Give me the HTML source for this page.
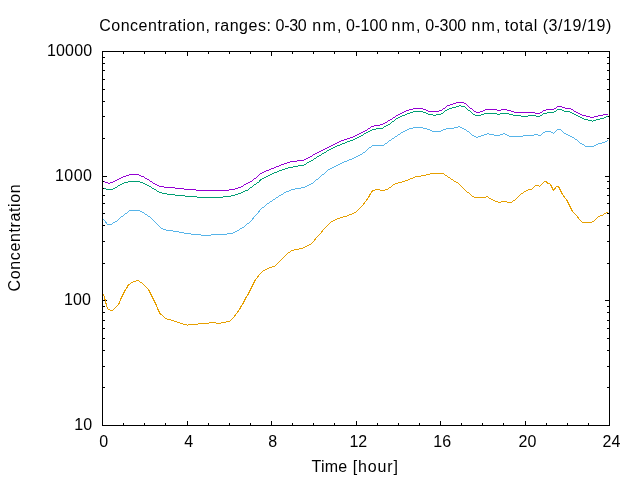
<!DOCTYPE html>
<html lang="en"><head><meta charset="utf-8"><title>Concentration plot</title>
<style>
html,body{margin:0;padding:0;background:#fff;}
body{width:640px;height:480px;overflow:hidden;}
svg{display:block;will-change:transform;}
text{font-family:"Liberation Sans","DejaVu Sans",sans-serif;font-size:16px;fill:#000;}
.c{fill:none;stroke-width:1;stroke-linejoin:round;stroke-linecap:butt;shape-rendering:crispEdges;}
.k{fill:#000;shape-rendering:crispEdges;}
</style></head><body>
<svg width="640" height="480" viewBox="0 0 640 480">
<rect x="0" y="0" width="640" height="480" fill="#fff"/>
<g class="k">
<rect x="123" y="423" width="1" height="2"/>
<rect x="123" y="52" width="1" height="2"/>
<rect x="144" y="423" width="1" height="2"/>
<rect x="144" y="52" width="1" height="2"/>
<rect x="165" y="423" width="1" height="2"/>
<rect x="165" y="52" width="1" height="2"/>
<rect x="187" y="421" width="1" height="4"/>
<rect x="187" y="52" width="1" height="4"/>
<rect x="208" y="423" width="1" height="2"/>
<rect x="208" y="52" width="1" height="2"/>
<rect x="229" y="423" width="1" height="2"/>
<rect x="229" y="52" width="1" height="2"/>
<rect x="250" y="423" width="1" height="2"/>
<rect x="250" y="52" width="1" height="2"/>
<rect x="271" y="421" width="1" height="4"/>
<rect x="271" y="52" width="1" height="4"/>
<rect x="292" y="423" width="1" height="2"/>
<rect x="292" y="52" width="1" height="2"/>
<rect x="313" y="423" width="1" height="2"/>
<rect x="313" y="52" width="1" height="2"/>
<rect x="334" y="423" width="1" height="2"/>
<rect x="334" y="52" width="1" height="2"/>
<rect x="356" y="421" width="1" height="4"/>
<rect x="356" y="52" width="1" height="4"/>
<rect x="377" y="423" width="1" height="2"/>
<rect x="377" y="52" width="1" height="2"/>
<rect x="398" y="423" width="1" height="2"/>
<rect x="398" y="52" width="1" height="2"/>
<rect x="419" y="423" width="1" height="2"/>
<rect x="419" y="52" width="1" height="2"/>
<rect x="440" y="421" width="1" height="4"/>
<rect x="440" y="52" width="1" height="4"/>
<rect x="461" y="423" width="1" height="2"/>
<rect x="461" y="52" width="1" height="2"/>
<rect x="482" y="423" width="1" height="2"/>
<rect x="482" y="52" width="1" height="2"/>
<rect x="503" y="423" width="1" height="2"/>
<rect x="503" y="52" width="1" height="2"/>
<rect x="525" y="421" width="1" height="4"/>
<rect x="525" y="52" width="1" height="4"/>
<rect x="546" y="423" width="1" height="2"/>
<rect x="546" y="52" width="1" height="2"/>
<rect x="567" y="423" width="1" height="2"/>
<rect x="567" y="52" width="1" height="2"/>
<rect x="588" y="423" width="1" height="2"/>
<rect x="588" y="52" width="1" height="2"/>
<rect x="103" y="387" width="2" height="1"/>
<rect x="607" y="387" width="2" height="1"/>
<rect x="103" y="366" width="2" height="1"/>
<rect x="607" y="366" width="2" height="1"/>
<rect x="103" y="350" width="2" height="1"/>
<rect x="607" y="350" width="2" height="1"/>
<rect x="103" y="338" width="2" height="1"/>
<rect x="607" y="338" width="2" height="1"/>
<rect x="103" y="328" width="2" height="1"/>
<rect x="607" y="328" width="2" height="1"/>
<rect x="103" y="320" width="2" height="1"/>
<rect x="607" y="320" width="2" height="1"/>
<rect x="103" y="312" width="2" height="1"/>
<rect x="607" y="312" width="2" height="1"/>
<rect x="103" y="306" width="2" height="1"/>
<rect x="607" y="306" width="2" height="1"/>
<rect x="103" y="300" width="4" height="1"/>
<rect x="605" y="300" width="4" height="1"/>
<rect x="103" y="263" width="2" height="1"/>
<rect x="607" y="263" width="2" height="1"/>
<rect x="103" y="241" width="2" height="1"/>
<rect x="607" y="241" width="2" height="1"/>
<rect x="103" y="225" width="2" height="1"/>
<rect x="607" y="225" width="2" height="1"/>
<rect x="103" y="213" width="2" height="1"/>
<rect x="607" y="213" width="2" height="1"/>
<rect x="103" y="203" width="2" height="1"/>
<rect x="607" y="203" width="2" height="1"/>
<rect x="103" y="195" width="2" height="1"/>
<rect x="607" y="195" width="2" height="1"/>
<rect x="103" y="188" width="2" height="1"/>
<rect x="607" y="188" width="2" height="1"/>
<rect x="103" y="181" width="2" height="1"/>
<rect x="607" y="181" width="2" height="1"/>
<rect x="103" y="176" width="4" height="1"/>
<rect x="605" y="176" width="4" height="1"/>
<rect x="103" y="138" width="2" height="1"/>
<rect x="607" y="138" width="2" height="1"/>
<rect x="103" y="116" width="2" height="1"/>
<rect x="607" y="116" width="2" height="1"/>
<rect x="103" y="101" width="2" height="1"/>
<rect x="607" y="101" width="2" height="1"/>
<rect x="103" y="89" width="2" height="1"/>
<rect x="607" y="89" width="2" height="1"/>
<rect x="103" y="79" width="2" height="1"/>
<rect x="607" y="79" width="2" height="1"/>
<rect x="103" y="70" width="2" height="1"/>
<rect x="607" y="70" width="2" height="1"/>
<rect x="103" y="63" width="2" height="1"/>
<rect x="607" y="63" width="2" height="1"/>
<rect x="103" y="57" width="2" height="1"/>
<rect x="607" y="57" width="2" height="1"/>
</g>
<g class="c">
<polyline stroke="#9400d3" points="103.5,181.5 104.5,181.5 105.5,182.5 106.5,182.5 107.5,182.5 108.5,183.5 109.5,183.5 110.5,182.5 111.5,182.5 112.5,182.5 113.5,181.5 114.5,181.5 115.5,180.5 116.5,180.5 117.5,179.5 118.5,179.5 119.5,178.5 120.5,178.5 121.5,177.5 122.5,177.5 123.5,176.5 124.5,176.5 125.5,176.5 126.5,175.5 127.5,175.5 128.5,175.5 129.5,174.5 130.5,174.5 131.5,174.5 132.5,174.5 133.5,174.5 134.5,174.5 135.5,174.5 136.5,174.5 137.5,174.5 138.5,174.5 139.5,175.5 140.5,175.5 141.5,176.5 142.5,176.5 143.5,176.5 144.5,177.5 145.5,178.5 146.5,178.5 147.5,179.5 148.5,179.5 149.5,180.5 150.5,181.5 151.5,181.5 152.5,182.5 153.5,183.5 154.5,183.5 155.5,184.5 156.5,184.5 157.5,185.5 158.5,185.5 159.5,186.5 160.5,186.5 161.5,186.5 162.5,186.5 163.5,186.5 164.5,187.5 165.5,187.5 166.5,187.5 167.5,187.5 168.5,187.5 169.5,187.5 170.5,187.5 171.5,187.5 172.5,187.5 173.5,187.5 174.5,187.5 175.5,188.5 176.5,188.5 177.5,188.5 178.5,188.5 179.5,188.5 180.5,188.5 181.5,188.5 182.5,188.5 183.5,188.5 184.5,189.5 185.5,189.5 186.5,189.5 187.5,189.5 188.5,189.5 189.5,189.5 190.5,189.5 191.5,189.5 192.5,189.5 193.5,189.5 194.5,189.5 195.5,189.5 196.5,190.5 197.5,190.5 198.5,190.5 199.5,190.5 200.5,190.5 201.5,190.5 202.5,190.5 203.5,190.5 204.5,190.5 205.5,190.5 206.5,190.5 207.5,190.5 208.5,190.5 209.5,190.5 210.5,190.5 211.5,190.5 212.5,190.5 213.5,190.5 214.5,190.5 215.5,190.5 216.5,190.5 217.5,190.5 218.5,190.5 219.5,190.5 220.5,190.5 221.5,190.5 222.5,190.5 223.5,190.5 224.5,190.5 225.5,190.5 226.5,190.5 227.5,190.5 228.5,190.5 229.5,189.5 230.5,189.5 231.5,189.5 232.5,189.5 233.5,189.5 234.5,189.5 235.5,188.5 236.5,188.5 237.5,188.5 238.5,187.5 239.5,187.5 240.5,187.5 241.5,186.5 242.5,186.5 243.5,185.5 244.5,184.5 245.5,184.5 246.5,183.5 247.5,183.5 248.5,182.5 249.5,182.5 250.5,181.5 251.5,181.5 252.5,180.5 253.5,179.5 254.5,178.5 255.5,178.5 256.5,177.5 257.5,176.5 258.5,175.5 259.5,174.5 260.5,173.5 261.5,173.5 262.5,172.5 263.5,172.5 264.5,171.5 265.5,171.5 266.5,170.5 267.5,170.5 268.5,170.5 269.5,169.5 270.5,169.5 271.5,168.5 272.5,168.5 273.5,168.5 274.5,167.5 275.5,167.5 276.5,166.5 277.5,166.5 278.5,166.5 279.5,165.5 280.5,165.5 281.5,164.5 282.5,164.5 283.5,164.5 284.5,163.5 285.5,163.5 286.5,163.5 287.5,162.5 288.5,162.5 289.5,162.5 290.5,161.5 291.5,161.5 292.5,161.5 293.5,161.5 294.5,161.5 295.5,161.5 296.5,161.5 297.5,160.5 298.5,160.5 299.5,160.5 300.5,160.5 301.5,160.5 302.5,160.5 303.5,160.5 304.5,159.5 305.5,159.5 306.5,158.5 307.5,158.5 308.5,157.5 309.5,157.5 310.5,156.5 311.5,156.5 312.5,155.5 313.5,154.5 314.5,154.5 315.5,153.5 316.5,153.5 317.5,152.5 318.5,152.5 319.5,151.5 320.5,151.5 321.5,150.5 322.5,150.5 323.5,149.5 324.5,149.5 325.5,148.5 326.5,148.5 327.5,147.5 328.5,147.5 329.5,146.5 330.5,146.5 331.5,145.5 332.5,145.5 333.5,144.5 334.5,144.5 335.5,143.5 336.5,143.5 337.5,142.5 338.5,142.5 339.5,141.5 340.5,141.5 341.5,140.5 342.5,140.5 343.5,140.5 344.5,139.5 345.5,139.5 346.5,139.5 347.5,138.5 348.5,138.5 349.5,138.5 350.5,137.5 351.5,137.5 352.5,137.5 353.5,136.5 354.5,136.5 355.5,135.5 356.5,135.5 357.5,134.5 358.5,134.5 359.5,133.5 360.5,133.5 361.5,132.5 362.5,132.5 363.5,131.5 364.5,131.5 365.5,130.5 366.5,130.5 367.5,129.5 368.5,128.5 369.5,128.5 370.5,127.5 371.5,126.5 372.5,126.5 373.5,126.5 374.5,125.5 375.5,125.5 376.5,125.5 377.5,125.5 378.5,125.5 379.5,125.5 380.5,124.5 381.5,124.5 382.5,124.5 383.5,123.5 384.5,123.5 385.5,122.5 386.5,122.5 387.5,121.5 388.5,120.5 389.5,120.5 390.5,119.5 391.5,119.5 392.5,118.5 393.5,117.5 394.5,117.5 395.5,116.5 396.5,115.5 397.5,115.5 398.5,114.5 399.5,114.5 400.5,113.5 401.5,113.5 402.5,112.5 403.5,112.5 404.5,111.5 405.5,111.5 406.5,110.5 407.5,110.5 408.5,110.5 409.5,109.5 410.5,109.5 411.5,109.5 412.5,109.5 413.5,108.5 414.5,108.5 415.5,108.5 416.5,108.5 417.5,108.5 418.5,108.5 419.5,108.5 420.5,108.5 421.5,108.5 422.5,108.5 423.5,109.5 424.5,109.5 425.5,109.5 426.5,110.5 427.5,110.5 428.5,111.5 429.5,111.5 430.5,111.5 431.5,111.5 432.5,111.5 433.5,111.5 434.5,111.5 435.5,111.5 436.5,111.5 437.5,111.5 438.5,111.5 439.5,110.5 440.5,110.5 441.5,110.5 442.5,109.5 443.5,108.5 444.5,108.5 445.5,107.5 446.5,106.5 447.5,105.5 448.5,105.5 449.5,105.5 450.5,104.5 451.5,104.5 452.5,104.5 453.5,103.5 454.5,103.5 455.5,103.5 456.5,102.5 457.5,102.5 458.5,102.5 459.5,102.5 460.5,102.5 461.5,102.5 462.5,102.5 463.5,102.5 464.5,103.5 465.5,103.5 466.5,104.5 467.5,105.5 468.5,106.5 469.5,107.5 470.5,108.5 471.5,108.5 472.5,109.5 473.5,110.5 474.5,111.5 475.5,111.5 476.5,112.5 477.5,112.5 478.5,112.5 479.5,112.5 480.5,111.5 481.5,111.5 482.5,111.5 483.5,110.5 484.5,110.5 485.5,109.5 486.5,109.5 487.5,109.5 488.5,109.5 489.5,109.5 490.5,109.5 491.5,109.5 492.5,109.5 493.5,109.5 494.5,109.5 495.5,109.5 496.5,109.5 497.5,110.5 498.5,110.5 499.5,110.5 500.5,110.5 501.5,109.5 502.5,109.5 503.5,109.5 504.5,109.5 505.5,109.5 506.5,109.5 507.5,110.5 508.5,110.5 509.5,110.5 510.5,110.5 511.5,111.5 512.5,111.5 513.5,111.5 514.5,112.5 515.5,112.5 516.5,112.5 517.5,112.5 518.5,112.5 519.5,112.5 520.5,112.5 521.5,112.5 522.5,112.5 523.5,112.5 524.5,112.5 525.5,112.5 526.5,112.5 527.5,112.5 528.5,112.5 529.5,112.5 530.5,112.5 531.5,112.5 532.5,112.5 533.5,112.5 534.5,112.5 535.5,113.5 536.5,113.5 537.5,113.5 538.5,113.5 539.5,113.5 540.5,112.5 541.5,112.5 542.5,111.5 543.5,110.5 544.5,110.5 545.5,110.5 546.5,109.5 547.5,109.5 548.5,109.5 549.5,109.5 550.5,109.5 551.5,109.5 552.5,109.5 553.5,109.5 554.5,108.5 555.5,108.5 556.5,107.5 557.5,106.5 558.5,106.5 559.5,106.5 560.5,106.5 561.5,106.5 562.5,107.5 563.5,107.5 564.5,107.5 565.5,108.5 566.5,108.5 567.5,108.5 568.5,108.5 569.5,108.5 570.5,108.5 571.5,109.5 572.5,109.5 573.5,110.5 574.5,111.5 575.5,111.5 576.5,112.5 577.5,112.5 578.5,113.5 579.5,113.5 580.5,114.5 581.5,114.5 582.5,115.5 583.5,115.5 584.5,115.5 585.5,115.5 586.5,116.5 587.5,116.5 588.5,116.5 589.5,116.5 590.5,117.5 591.5,117.5 592.5,117.5 593.5,117.5 594.5,116.5 595.5,116.5 596.5,116.5 597.5,116.5 598.5,115.5 599.5,115.5 600.5,115.5 601.5,115.5 602.5,115.5 603.5,114.5 604.5,114.5 605.5,114.5 606.5,114.5 607.5,114.5"/>
<polyline stroke="#009e73" points="103.5,188.5 104.5,188.5 105.5,188.5 106.5,189.5 107.5,189.5 108.5,189.5 109.5,189.5 110.5,189.5 111.5,189.5 112.5,189.5 113.5,188.5 114.5,188.5 115.5,187.5 116.5,187.5 117.5,186.5 118.5,185.5 119.5,185.5 120.5,184.5 121.5,184.5 122.5,183.5 123.5,183.5 124.5,182.5 125.5,182.5 126.5,182.5 127.5,182.5 128.5,181.5 129.5,181.5 130.5,181.5 131.5,181.5 132.5,181.5 133.5,181.5 134.5,181.5 135.5,181.5 136.5,181.5 137.5,181.5 138.5,181.5 139.5,181.5 140.5,182.5 141.5,182.5 142.5,182.5 143.5,183.5 144.5,183.5 145.5,184.5 146.5,184.5 147.5,185.5 148.5,185.5 149.5,186.5 150.5,186.5 151.5,187.5 152.5,188.5 153.5,188.5 154.5,189.5 155.5,189.5 156.5,190.5 157.5,191.5 158.5,191.5 159.5,192.5 160.5,192.5 161.5,192.5 162.5,193.5 163.5,193.5 164.5,193.5 165.5,193.5 166.5,193.5 167.5,194.5 168.5,194.5 169.5,194.5 170.5,194.5 171.5,194.5 172.5,194.5 173.5,194.5 174.5,194.5 175.5,195.5 176.5,195.5 177.5,195.5 178.5,195.5 179.5,195.5 180.5,195.5 181.5,195.5 182.5,195.5 183.5,195.5 184.5,195.5 185.5,196.5 186.5,196.5 187.5,196.5 188.5,196.5 189.5,196.5 190.5,196.5 191.5,196.5 192.5,196.5 193.5,196.5 194.5,196.5 195.5,196.5 196.5,196.5 197.5,197.5 198.5,197.5 199.5,197.5 200.5,197.5 201.5,197.5 202.5,197.5 203.5,197.5 204.5,197.5 205.5,197.5 206.5,197.5 207.5,197.5 208.5,197.5 209.5,197.5 210.5,197.5 211.5,197.5 212.5,197.5 213.5,197.5 214.5,197.5 215.5,197.5 216.5,197.5 217.5,197.5 218.5,197.5 219.5,197.5 220.5,197.5 221.5,197.5 222.5,197.5 223.5,196.5 224.5,196.5 225.5,196.5 226.5,196.5 227.5,196.5 228.5,196.5 229.5,196.5 230.5,196.5 231.5,195.5 232.5,195.5 233.5,195.5 234.5,195.5 235.5,194.5 236.5,194.5 237.5,194.5 238.5,193.5 239.5,193.5 240.5,193.5 241.5,192.5 242.5,192.5 243.5,191.5 244.5,191.5 245.5,190.5 246.5,190.5 247.5,190.5 248.5,189.5 249.5,188.5 250.5,187.5 251.5,187.5 252.5,186.5 253.5,185.5 254.5,184.5 255.5,184.5 256.5,183.5 257.5,182.5 258.5,182.5 259.5,181.5 260.5,179.5 261.5,179.5 262.5,178.5 263.5,178.5 264.5,177.5 265.5,177.5 266.5,176.5 267.5,176.5 268.5,175.5 269.5,175.5 270.5,174.5 271.5,174.5 272.5,173.5 273.5,173.5 274.5,172.5 275.5,172.5 276.5,172.5 277.5,171.5 278.5,171.5 279.5,170.5 280.5,170.5 281.5,170.5 282.5,169.5 283.5,169.5 284.5,169.5 285.5,168.5 286.5,168.5 287.5,168.5 288.5,167.5 289.5,167.5 290.5,167.5 291.5,167.5 292.5,167.5 293.5,166.5 294.5,166.5 295.5,166.5 296.5,166.5 297.5,166.5 298.5,165.5 299.5,165.5 300.5,165.5 301.5,165.5 302.5,165.5 303.5,165.5 304.5,164.5 305.5,164.5 306.5,163.5 307.5,162.5 308.5,162.5 309.5,161.5 310.5,161.5 311.5,160.5 312.5,160.5 313.5,159.5 314.5,158.5 315.5,158.5 316.5,157.5 317.5,156.5 318.5,156.5 319.5,155.5 320.5,155.5 321.5,154.5 322.5,153.5 323.5,153.5 324.5,152.5 325.5,152.5 326.5,151.5 327.5,150.5 328.5,150.5 329.5,149.5 330.5,149.5 331.5,148.5 332.5,148.5 333.5,147.5 334.5,147.5 335.5,146.5 336.5,146.5 337.5,145.5 338.5,145.5 339.5,145.5 340.5,144.5 341.5,144.5 342.5,143.5 343.5,143.5 344.5,143.5 345.5,142.5 346.5,142.5 347.5,141.5 348.5,141.5 349.5,141.5 350.5,140.5 351.5,140.5 352.5,140.5 353.5,139.5 354.5,139.5 355.5,138.5 356.5,138.5 357.5,137.5 358.5,137.5 359.5,136.5 360.5,136.5 361.5,135.5 362.5,135.5 363.5,134.5 364.5,133.5 365.5,133.5 366.5,132.5 367.5,132.5 368.5,131.5 369.5,131.5 370.5,130.5 371.5,130.5 372.5,129.5 373.5,129.5 374.5,129.5 375.5,129.5 376.5,128.5 377.5,128.5 378.5,128.5 379.5,128.5 380.5,128.5 381.5,128.5 382.5,128.5 383.5,127.5 384.5,126.5 385.5,126.5 386.5,125.5 387.5,125.5 388.5,124.5 389.5,124.5 390.5,123.5 391.5,122.5 392.5,121.5 393.5,121.5 394.5,120.5 395.5,119.5 396.5,118.5 397.5,118.5 398.5,117.5 399.5,117.5 400.5,116.5 401.5,116.5 402.5,115.5 403.5,115.5 404.5,115.5 405.5,114.5 406.5,114.5 407.5,113.5 408.5,113.5 409.5,113.5 410.5,112.5 411.5,112.5 412.5,112.5 413.5,111.5 414.5,111.5 415.5,111.5 416.5,111.5 417.5,111.5 418.5,111.5 419.5,111.5 420.5,111.5 421.5,111.5 422.5,111.5 423.5,112.5 424.5,112.5 425.5,112.5 426.5,113.5 427.5,113.5 428.5,114.5 429.5,114.5 430.5,114.5 431.5,114.5 432.5,114.5 433.5,115.5 434.5,115.5 435.5,115.5 436.5,114.5 437.5,114.5 438.5,114.5 439.5,114.5 440.5,114.5 441.5,113.5 442.5,113.5 443.5,112.5 444.5,111.5 445.5,110.5 446.5,110.5 447.5,109.5 448.5,109.5 449.5,108.5 450.5,108.5 451.5,108.5 452.5,107.5 453.5,107.5 454.5,107.5 455.5,107.5 456.5,106.5 457.5,106.5 458.5,106.5 459.5,105.5 460.5,105.5 461.5,106.5 462.5,106.5 463.5,106.5 464.5,106.5 465.5,107.5 466.5,108.5 467.5,109.5 468.5,110.5 469.5,110.5 470.5,111.5 471.5,112.5 472.5,113.5 473.5,114.5 474.5,114.5 475.5,115.5 476.5,115.5 477.5,115.5 478.5,115.5 479.5,115.5 480.5,115.5 481.5,114.5 482.5,114.5 483.5,114.5 484.5,113.5 485.5,113.5 486.5,113.5 487.5,113.5 488.5,113.5 489.5,113.5 490.5,113.5 491.5,113.5 492.5,113.5 493.5,113.5 494.5,113.5 495.5,113.5 496.5,113.5 497.5,114.5 498.5,114.5 499.5,114.5 500.5,113.5 501.5,113.5 502.5,113.5 503.5,113.5 504.5,113.5 505.5,113.5 506.5,113.5 507.5,113.5 508.5,113.5 509.5,114.5 510.5,114.5 511.5,114.5 512.5,114.5 513.5,115.5 514.5,115.5 515.5,115.5 516.5,115.5 517.5,115.5 518.5,115.5 519.5,115.5 520.5,115.5 521.5,116.5 522.5,116.5 523.5,116.5 524.5,116.5 525.5,116.5 526.5,116.5 527.5,116.5 528.5,115.5 529.5,115.5 530.5,115.5 531.5,115.5 532.5,115.5 533.5,115.5 534.5,115.5 535.5,115.5 536.5,116.5 537.5,116.5 538.5,116.5 539.5,116.5 540.5,115.5 541.5,115.5 542.5,114.5 543.5,113.5 544.5,113.5 545.5,113.5 546.5,113.5 547.5,112.5 548.5,112.5 549.5,112.5 550.5,112.5 551.5,112.5 552.5,112.5 553.5,112.5 554.5,111.5 555.5,111.5 556.5,110.5 557.5,109.5 558.5,109.5 559.5,109.5 560.5,109.5 561.5,109.5 562.5,110.5 563.5,110.5 564.5,111.5 565.5,111.5 566.5,111.5 567.5,111.5 568.5,111.5 569.5,111.5 570.5,112.5 571.5,112.5 572.5,113.5 573.5,113.5 574.5,114.5 575.5,114.5 576.5,115.5 577.5,115.5 578.5,116.5 579.5,116.5 580.5,117.5 581.5,117.5 582.5,118.5 583.5,118.5 584.5,119.5 585.5,119.5 586.5,119.5 587.5,119.5 588.5,120.5 589.5,120.5 590.5,120.5 591.5,120.5 592.5,121.5 593.5,120.5 594.5,120.5 595.5,120.5 596.5,119.5 597.5,119.5 598.5,119.5 599.5,119.5 600.5,118.5 601.5,118.5 602.5,118.5 603.5,118.5 604.5,117.5 605.5,117.5 606.5,116.5 607.5,116.5"/>
<polyline stroke="#56b4e9" points="103.5,219.5 104.5,220.5 105.5,221.5 106.5,223.5 107.5,224.5 108.5,224.5 109.5,224.5 110.5,224.5 111.5,224.5 112.5,223.5 113.5,222.5 114.5,222.5 115.5,221.5 116.5,221.5 117.5,220.5 118.5,219.5 119.5,218.5 120.5,217.5 121.5,216.5 122.5,216.5 123.5,215.5 124.5,214.5 125.5,213.5 126.5,213.5 127.5,212.5 128.5,211.5 129.5,210.5 130.5,210.5 131.5,210.5 132.5,210.5 133.5,210.5 134.5,210.5 135.5,210.5 136.5,210.5 137.5,210.5 138.5,210.5 139.5,210.5 140.5,211.5 141.5,211.5 142.5,212.5 143.5,212.5 144.5,213.5 145.5,214.5 146.5,214.5 147.5,215.5 148.5,216.5 149.5,216.5 150.5,217.5 151.5,218.5 152.5,219.5 153.5,220.5 154.5,221.5 155.5,222.5 156.5,223.5 157.5,224.5 158.5,225.5 159.5,226.5 160.5,227.5 161.5,228.5 162.5,228.5 163.5,229.5 164.5,229.5 165.5,229.5 166.5,230.5 167.5,230.5 168.5,230.5 169.5,230.5 170.5,230.5 171.5,230.5 172.5,230.5 173.5,231.5 174.5,231.5 175.5,231.5 176.5,231.5 177.5,231.5 178.5,231.5 179.5,232.5 180.5,232.5 181.5,232.5 182.5,232.5 183.5,232.5 184.5,233.5 185.5,233.5 186.5,233.5 187.5,233.5 188.5,233.5 189.5,233.5 190.5,233.5 191.5,234.5 192.5,234.5 193.5,234.5 194.5,234.5 195.5,234.5 196.5,234.5 197.5,234.5 198.5,234.5 199.5,234.5 200.5,234.5 201.5,235.5 202.5,235.5 203.5,235.5 204.5,235.5 205.5,235.5 206.5,235.5 207.5,235.5 208.5,235.5 209.5,235.5 210.5,235.5 211.5,234.5 212.5,234.5 213.5,234.5 214.5,234.5 215.5,234.5 216.5,234.5 217.5,234.5 218.5,234.5 219.5,234.5 220.5,234.5 221.5,234.5 222.5,234.5 223.5,234.5 224.5,234.5 225.5,234.5 226.5,234.5 227.5,233.5 228.5,233.5 229.5,233.5 230.5,233.5 231.5,233.5 232.5,233.5 233.5,232.5 234.5,232.5 235.5,231.5 236.5,231.5 237.5,230.5 238.5,230.5 239.5,229.5 240.5,228.5 241.5,228.5 242.5,227.5 243.5,227.5 244.5,226.5 245.5,225.5 246.5,224.5 247.5,223.5 248.5,223.5 249.5,222.5 250.5,221.5 251.5,220.5 252.5,219.5 253.5,217.5 254.5,216.5 255.5,215.5 256.5,214.5 257.5,213.5 258.5,212.5 259.5,210.5 260.5,209.5 261.5,208.5 262.5,207.5 263.5,207.5 264.5,206.5 265.5,205.5 266.5,204.5 267.5,203.5 268.5,203.5 269.5,202.5 270.5,201.5 271.5,201.5 272.5,200.5 273.5,199.5 274.5,199.5 275.5,198.5 276.5,197.5 277.5,197.5 278.5,196.5 279.5,195.5 280.5,195.5 281.5,194.5 282.5,194.5 283.5,193.5 284.5,192.5 285.5,192.5 286.5,191.5 287.5,191.5 288.5,191.5 289.5,190.5 290.5,190.5 291.5,189.5 292.5,189.5 293.5,189.5 294.5,189.5 295.5,188.5 296.5,188.5 297.5,188.5 298.5,188.5 299.5,188.5 300.5,188.5 301.5,187.5 302.5,187.5 303.5,187.5 304.5,187.5 305.5,186.5 306.5,186.5 307.5,185.5 308.5,185.5 309.5,184.5 310.5,184.5 311.5,183.5 312.5,183.5 313.5,182.5 314.5,181.5 315.5,180.5 316.5,179.5 317.5,179.5 318.5,178.5 319.5,177.5 320.5,176.5 321.5,175.5 322.5,174.5 323.5,174.5 324.5,173.5 325.5,172.5 326.5,171.5 327.5,170.5 328.5,169.5 329.5,169.5 330.5,168.5 331.5,168.5 332.5,167.5 333.5,167.5 334.5,166.5 335.5,166.5 336.5,165.5 337.5,165.5 338.5,164.5 339.5,164.5 340.5,163.5 341.5,163.5 342.5,162.5 343.5,162.5 344.5,161.5 345.5,161.5 346.5,161.5 347.5,160.5 348.5,160.5 349.5,159.5 350.5,159.5 351.5,159.5 352.5,158.5 353.5,158.5 354.5,157.5 355.5,157.5 356.5,156.5 357.5,156.5 358.5,155.5 359.5,155.5 360.5,154.5 361.5,154.5 362.5,153.5 363.5,152.5 364.5,152.5 365.5,151.5 366.5,150.5 367.5,149.5 368.5,148.5 369.5,147.5 370.5,147.5 371.5,146.5 372.5,145.5 373.5,145.5 374.5,145.5 375.5,145.5 376.5,145.5 377.5,145.5 378.5,145.5 379.5,145.5 380.5,145.5 381.5,145.5 382.5,145.5 383.5,145.5 384.5,144.5 385.5,143.5 386.5,143.5 387.5,142.5 388.5,141.5 389.5,140.5 390.5,140.5 391.5,139.5 392.5,138.5 393.5,138.5 394.5,137.5 395.5,136.5 396.5,136.5 397.5,135.5 398.5,134.5 399.5,134.5 400.5,133.5 401.5,132.5 402.5,132.5 403.5,131.5 404.5,131.5 405.5,130.5 406.5,130.5 407.5,129.5 408.5,129.5 409.5,128.5 410.5,128.5 411.5,128.5 412.5,128.5 413.5,127.5 414.5,127.5 415.5,127.5 416.5,127.5 417.5,127.5 418.5,127.5 419.5,127.5 420.5,127.5 421.5,127.5 422.5,127.5 423.5,128.5 424.5,128.5 425.5,128.5 426.5,128.5 427.5,129.5 428.5,129.5 429.5,129.5 430.5,130.5 431.5,130.5 432.5,131.5 433.5,131.5 434.5,131.5 435.5,131.5 436.5,131.5 437.5,131.5 438.5,131.5 439.5,131.5 440.5,131.5 441.5,130.5 442.5,130.5 443.5,129.5 444.5,129.5 445.5,129.5 446.5,128.5 447.5,128.5 448.5,128.5 449.5,128.5 450.5,128.5 451.5,128.5 452.5,128.5 453.5,128.5 454.5,127.5 455.5,127.5 456.5,127.5 457.5,127.5 458.5,126.5 459.5,126.5 460.5,127.5 461.5,127.5 462.5,128.5 463.5,128.5 464.5,129.5 465.5,129.5 466.5,130.5 467.5,131.5 468.5,131.5 469.5,132.5 470.5,133.5 471.5,134.5 472.5,135.5 473.5,135.5 474.5,136.5 475.5,136.5 476.5,137.5 477.5,137.5 478.5,136.5 479.5,136.5 480.5,136.5 481.5,135.5 482.5,135.5 483.5,135.5 484.5,134.5 485.5,134.5 486.5,134.5 487.5,133.5 488.5,133.5 489.5,134.5 490.5,134.5 491.5,134.5 492.5,134.5 493.5,134.5 494.5,135.5 495.5,135.5 496.5,135.5 497.5,135.5 498.5,135.5 499.5,135.5 500.5,134.5 501.5,134.5 502.5,134.5 503.5,133.5 504.5,133.5 505.5,134.5 506.5,134.5 507.5,135.5 508.5,135.5 509.5,136.5 510.5,136.5 511.5,136.5 512.5,136.5 513.5,136.5 514.5,136.5 515.5,136.5 516.5,136.5 517.5,136.5 518.5,136.5 519.5,136.5 520.5,136.5 521.5,136.5 522.5,136.5 523.5,135.5 524.5,135.5 525.5,135.5 526.5,135.5 527.5,135.5 528.5,135.5 529.5,135.5 530.5,135.5 531.5,135.5 532.5,135.5 533.5,135.5 534.5,134.5 535.5,134.5 536.5,134.5 537.5,134.5 538.5,135.5 539.5,135.5 540.5,135.5 541.5,134.5 542.5,133.5 543.5,132.5 544.5,132.5 545.5,131.5 546.5,131.5 547.5,131.5 548.5,131.5 549.5,131.5 550.5,131.5 551.5,132.5 552.5,132.5 553.5,133.5 554.5,132.5 555.5,131.5 556.5,130.5 557.5,129.5 558.5,129.5 559.5,129.5 560.5,129.5 561.5,130.5 562.5,131.5 563.5,132.5 564.5,133.5 565.5,133.5 566.5,134.5 567.5,134.5 568.5,135.5 569.5,135.5 570.5,136.5 571.5,136.5 572.5,137.5 573.5,137.5 574.5,138.5 575.5,139.5 576.5,139.5 577.5,140.5 578.5,141.5 579.5,142.5 580.5,143.5 581.5,143.5 582.5,144.5 583.5,144.5 584.5,145.5 585.5,146.5 586.5,146.5 587.5,146.5 588.5,146.5 589.5,146.5 590.5,146.5 591.5,146.5 592.5,146.5 593.5,146.5 594.5,145.5 595.5,145.5 596.5,144.5 597.5,144.5 598.5,143.5 599.5,143.5 600.5,143.5 601.5,143.5 602.5,142.5 603.5,142.5 604.5,142.5 605.5,141.5 606.5,141.5 607.5,140.5"/>
<polyline stroke="#e69f00" points="103.5,294.5 104.5,297.5 105.5,301.5 106.5,305.5 107.5,308.5 108.5,309.5 109.5,309.5 110.5,310.5 111.5,310.5 112.5,310.5 113.5,309.5 114.5,308.5 115.5,307.5 116.5,306.5 117.5,305.5 118.5,304.5 119.5,302.5 120.5,299.5 121.5,297.5 122.5,295.5 123.5,293.5 124.5,291.5 125.5,289.5 126.5,288.5 127.5,286.5 128.5,284.5 129.5,284.5 130.5,283.5 131.5,282.5 132.5,282.5 133.5,281.5 134.5,281.5 135.5,281.5 136.5,280.5 137.5,280.5 138.5,280.5 139.5,281.5 140.5,282.5 141.5,282.5 142.5,283.5 143.5,284.5 144.5,285.5 145.5,286.5 146.5,287.5 147.5,288.5 148.5,289.5 149.5,291.5 150.5,293.5 151.5,295.5 152.5,297.5 153.5,299.5 154.5,301.5 155.5,303.5 156.5,305.5 157.5,308.5 158.5,310.5 159.5,312.5 160.5,314.5 161.5,314.5 162.5,315.5 163.5,316.5 164.5,317.5 165.5,318.5 166.5,318.5 167.5,319.5 168.5,319.5 169.5,319.5 170.5,319.5 171.5,320.5 172.5,320.5 173.5,320.5 174.5,321.5 175.5,321.5 176.5,321.5 177.5,322.5 178.5,322.5 179.5,322.5 180.5,323.5 181.5,323.5 182.5,323.5 183.5,324.5 184.5,324.5 185.5,324.5 186.5,324.5 187.5,325.5 188.5,324.5 189.5,324.5 190.5,324.5 191.5,324.5 192.5,324.5 193.5,324.5 194.5,324.5 195.5,324.5 196.5,324.5 197.5,324.5 198.5,323.5 199.5,323.5 200.5,323.5 201.5,323.5 202.5,323.5 203.5,323.5 204.5,323.5 205.5,323.5 206.5,323.5 207.5,323.5 208.5,323.5 209.5,322.5 210.5,322.5 211.5,322.5 212.5,322.5 213.5,322.5 214.5,322.5 215.5,322.5 216.5,323.5 217.5,323.5 218.5,323.5 219.5,323.5 220.5,323.5 221.5,322.5 222.5,322.5 223.5,322.5 224.5,322.5 225.5,322.5 226.5,321.5 227.5,321.5 228.5,321.5 229.5,321.5 230.5,320.5 231.5,319.5 232.5,318.5 233.5,317.5 234.5,316.5 235.5,314.5 236.5,313.5 237.5,312.5 238.5,310.5 239.5,309.5 240.5,307.5 241.5,305.5 242.5,304.5 243.5,302.5 244.5,300.5 245.5,298.5 246.5,296.5 247.5,295.5 248.5,293.5 249.5,291.5 250.5,289.5 251.5,287.5 252.5,285.5 253.5,283.5 254.5,281.5 255.5,279.5 256.5,278.5 257.5,277.5 258.5,275.5 259.5,274.5 260.5,273.5 261.5,272.5 262.5,271.5 263.5,270.5 264.5,270.5 265.5,269.5 266.5,269.5 267.5,268.5 268.5,268.5 269.5,267.5 270.5,267.5 271.5,267.5 272.5,266.5 273.5,266.5 274.5,266.5 275.5,265.5 276.5,264.5 277.5,263.5 278.5,262.5 279.5,261.5 280.5,260.5 281.5,259.5 282.5,258.5 283.5,257.5 284.5,256.5 285.5,255.5 286.5,254.5 287.5,253.5 288.5,252.5 289.5,252.5 290.5,251.5 291.5,250.5 292.5,250.5 293.5,250.5 294.5,249.5 295.5,249.5 296.5,249.5 297.5,249.5 298.5,249.5 299.5,248.5 300.5,248.5 301.5,248.5 302.5,248.5 303.5,247.5 304.5,247.5 305.5,246.5 306.5,246.5 307.5,245.5 308.5,245.5 309.5,244.5 310.5,244.5 311.5,243.5 312.5,242.5 313.5,241.5 314.5,240.5 315.5,238.5 316.5,237.5 317.5,236.5 318.5,235.5 319.5,234.5 320.5,233.5 321.5,232.5 322.5,230.5 323.5,229.5 324.5,228.5 325.5,227.5 326.5,226.5 327.5,225.5 328.5,224.5 329.5,223.5 330.5,222.5 331.5,221.5 332.5,221.5 333.5,220.5 334.5,220.5 335.5,219.5 336.5,219.5 337.5,218.5 338.5,218.5 339.5,218.5 340.5,217.5 341.5,217.5 342.5,217.5 343.5,216.5 344.5,216.5 345.5,216.5 346.5,216.5 347.5,215.5 348.5,215.5 349.5,214.5 350.5,214.5 351.5,214.5 352.5,213.5 353.5,213.5 354.5,212.5 355.5,212.5 356.5,211.5 357.5,210.5 358.5,209.5 359.5,208.5 360.5,207.5 361.5,206.5 362.5,205.5 363.5,204.5 364.5,202.5 365.5,201.5 366.5,200.5 367.5,198.5 368.5,197.5 369.5,195.5 370.5,193.5 371.5,192.5 372.5,190.5 373.5,190.5 374.5,190.5 375.5,189.5 376.5,189.5 377.5,189.5 378.5,189.5 379.5,189.5 380.5,190.5 381.5,190.5 382.5,190.5 383.5,190.5 384.5,190.5 385.5,189.5 386.5,189.5 387.5,189.5 388.5,188.5 389.5,187.5 390.5,187.5 391.5,186.5 392.5,185.5 393.5,184.5 394.5,184.5 395.5,183.5 396.5,183.5 397.5,183.5 398.5,182.5 399.5,182.5 400.5,182.5 401.5,182.5 402.5,181.5 403.5,181.5 404.5,181.5 405.5,180.5 406.5,180.5 407.5,180.5 408.5,179.5 409.5,179.5 410.5,178.5 411.5,178.5 412.5,178.5 413.5,177.5 414.5,177.5 415.5,176.5 416.5,176.5 417.5,176.5 418.5,176.5 419.5,176.5 420.5,176.5 421.5,175.5 422.5,175.5 423.5,175.5 424.5,175.5 425.5,175.5 426.5,174.5 427.5,174.5 428.5,174.5 429.5,174.5 430.5,173.5 431.5,173.5 432.5,173.5 433.5,173.5 434.5,173.5 435.5,173.5 436.5,173.5 437.5,173.5 438.5,173.5 439.5,173.5 440.5,173.5 441.5,173.5 442.5,173.5 443.5,173.5 444.5,174.5 445.5,175.5 446.5,175.5 447.5,176.5 448.5,177.5 449.5,177.5 450.5,178.5 451.5,179.5 452.5,179.5 453.5,180.5 454.5,181.5 455.5,181.5 456.5,182.5 457.5,182.5 458.5,183.5 459.5,184.5 460.5,185.5 461.5,186.5 462.5,187.5 463.5,188.5 464.5,189.5 465.5,190.5 466.5,191.5 467.5,192.5 468.5,192.5 469.5,193.5 470.5,194.5 471.5,195.5 472.5,196.5 473.5,196.5 474.5,197.5 475.5,197.5 476.5,197.5 477.5,197.5 478.5,197.5 479.5,197.5 480.5,197.5 481.5,197.5 482.5,197.5 483.5,197.5 484.5,197.5 485.5,197.5 486.5,196.5 487.5,196.5 488.5,197.5 489.5,198.5 490.5,198.5 491.5,199.5 492.5,199.5 493.5,200.5 494.5,200.5 495.5,201.5 496.5,201.5 497.5,201.5 498.5,202.5 499.5,202.5 500.5,202.5 501.5,201.5 502.5,201.5 503.5,201.5 504.5,201.5 505.5,201.5 506.5,201.5 507.5,202.5 508.5,202.5 509.5,202.5 510.5,202.5 511.5,202.5 512.5,201.5 513.5,200.5 514.5,200.5 515.5,199.5 516.5,198.5 517.5,197.5 518.5,196.5 519.5,195.5 520.5,194.5 521.5,193.5 522.5,193.5 523.5,192.5 524.5,191.5 525.5,191.5 526.5,190.5 527.5,190.5 528.5,189.5 529.5,189.5 530.5,189.5 531.5,189.5 532.5,188.5 533.5,187.5 534.5,186.5 535.5,185.5 536.5,185.5 537.5,185.5 538.5,185.5 539.5,186.5 540.5,185.5 541.5,184.5 542.5,183.5 543.5,182.5 544.5,181.5 545.5,181.5 546.5,181.5 547.5,183.5 548.5,183.5 549.5,183.5 550.5,184.5 551.5,186.5 552.5,188.5 553.5,190.5 554.5,189.5 555.5,187.5 556.5,186.5 557.5,186.5 558.5,186.5 559.5,188.5 560.5,190.5 561.5,192.5 562.5,194.5 563.5,195.5 564.5,197.5 565.5,198.5 566.5,199.5 567.5,201.5 568.5,203.5 569.5,205.5 570.5,207.5 571.5,209.5 572.5,211.5 573.5,212.5 574.5,213.5 575.5,214.5 576.5,215.5 577.5,216.5 578.5,218.5 579.5,219.5 580.5,220.5 581.5,221.5 582.5,222.5 583.5,222.5 584.5,222.5 585.5,222.5 586.5,222.5 587.5,222.5 588.5,222.5 589.5,222.5 590.5,222.5 591.5,222.5 592.5,221.5 593.5,221.5 594.5,220.5 595.5,219.5 596.5,218.5 597.5,217.5 598.5,216.5 599.5,216.5 600.5,215.5 601.5,215.5 602.5,215.5 603.5,214.5 604.5,213.5 605.5,213.5 606.5,212.5 607.5,212.5"/>
</g>
<g class="k">
<rect x="102" y="51" width="508" height="1"/>
<rect x="102" y="425" width="508" height="1"/>
<rect x="102" y="51" width="1" height="375"/>
<rect x="609" y="51" width="1" height="375"/>
</g>
<text y="31"><tspan x="99.17" style="letter-spacing:0.512px">Concentration,</tspan> <tspan x="214.48" style="letter-spacing:0.508px">ranges:</tspan> <tspan x="275.57" style="letter-spacing:-0.317px">0-30</tspan> <tspan x="312.28" style="letter-spacing:1.237px">nm,</tspan> <tspan x="345.98" style="letter-spacing:0.169px">0-100</tspan> <tspan x="391.57" style="letter-spacing:1.137px">nm,</tspan> <tspan x="425.28" style="letter-spacing:0.019px">0-300</tspan> <tspan x="471.57" style="letter-spacing:1.137px">nm,</tspan> <tspan x="504.75" style="letter-spacing:0.606px">total</tspan> <tspan x="542.70" style="letter-spacing:0.563px">(3/19/19)</tspan></text>
<text x="74.30" y="430" style="letter-spacing:0.175px">10</text>
<text x="64.05" y="305" style="letter-spacing:0.062px">100</text>
<text x="55.05" y="181" style="letter-spacing:0.417px">1000</text>
<text x="46.95" y="56" style="letter-spacing:0.169px">10000</text>
<text x="99.21" y="447" style="letter-spacing:0px">0</text>
<text x="184.28" y="447" style="letter-spacing:0px">4</text>
<text x="268.15" y="447" style="letter-spacing:0px">8</text>
<text x="349.38" y="447" style="letter-spacing:0.1px">12</text>
<text x="433.31" y="447" style="letter-spacing:0.1px">16</text>
<text x="518.56" y="447" style="letter-spacing:0.1px">20</text>
<text x="602.44" y="447" style="letter-spacing:0.1px">24</text>
<text y="472"><tspan x="311.62" style="letter-spacing:0.192px">Time</tspan> <tspan x="352.78" style="letter-spacing:0.855px">[hour]</tspan></text>
<text transform="translate(20.1,291.47) rotate(-90)" style="letter-spacing:0.629px">Concentration</text>
</svg>
</body></html>
